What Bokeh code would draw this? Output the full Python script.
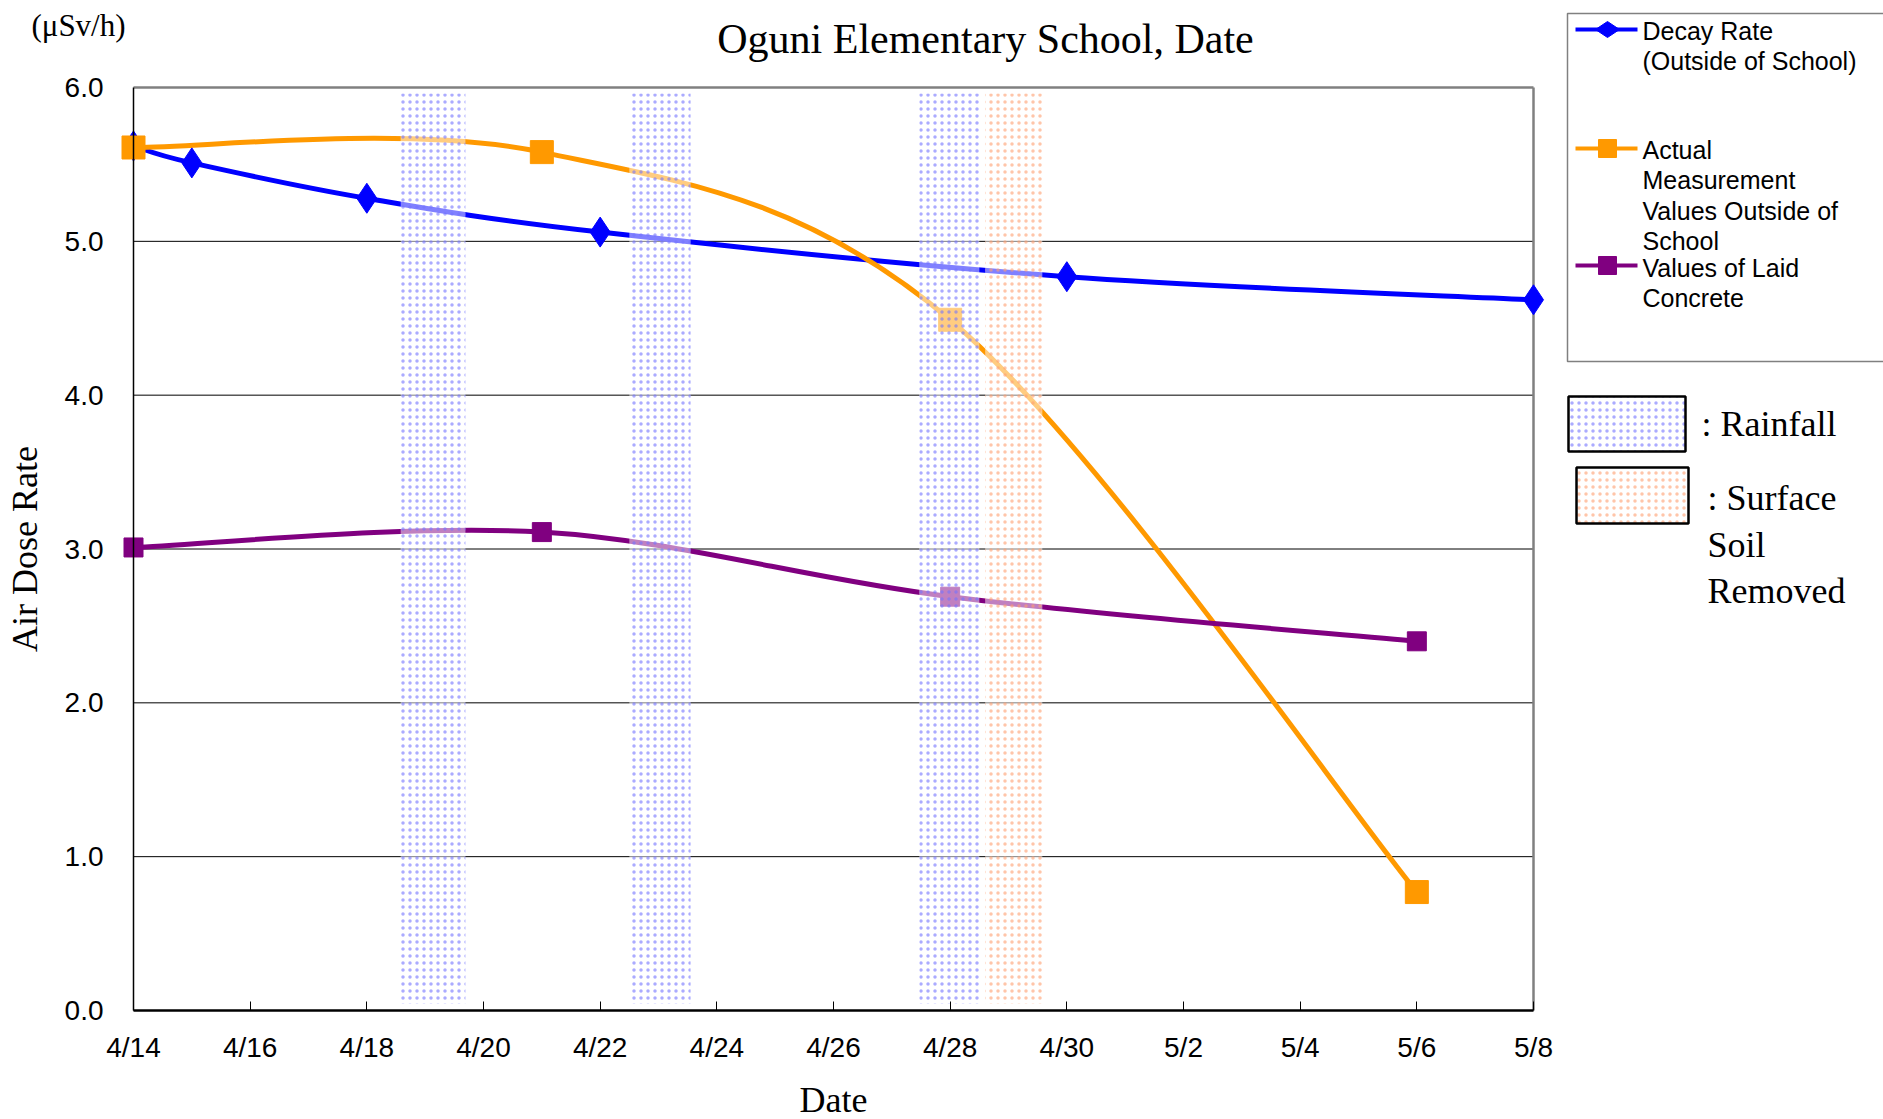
from bokeh.plotting import figure
from bokeh.models import Range1d, FixedTicker
from bokeh.core.properties import value
from bokeh.embed import file_html
from bokeh.resources import INLINE

# ---------------- data ----------------
x_tick_days = [0, 2, 4, 6, 8, 10, 12, 14, 16, 18, 20, 22, 24]
x_tick_labels = ["4/14", "4/16", "4/18", "4/20", "4/22", "4/24", "4/26",
                 "4/28", "4/30", "5/2", "5/4", "5/6", "5/8"]
y_ticks = [0, 1, 2, 3, 4, 5, 6]
y_tick_labels = ["0.0", "1.0", "2.0", "3.0", "4.0", "5.0", "6.0"]

decay_days = [0, 1, 4, 8, 16, 24]
decay_vals = [5.62, 5.51, 5.28, 5.06, 4.77, 4.62]

actual_days = [0, 7, 14, 22]
actual_vals = [5.61, 5.58, 4.49, 0.77]

concrete_days = [0, 7, 14, 22]
concrete_vals = [3.01, 3.11, 2.69, 2.40]

rain_start = [4.58, 8.50, 13.47]
rain_end = [5.69, 9.55, 14.50]
soil_start = [14.60]
soil_end = [15.58]

title = "Oguni Elementary School, Date"
unit_text = "(μSv/h)"
y_title = "Air Dose Rate"
x_title = "Date"
series_names = [["Decay Rate", "(Outside of School)"],
                ["Actual", "Measurement", "Values Outside of", "School"],
                ["Values of Laid", "Concrete"]]
band_names = [[": Rainfall"], [": Surface", "Soil", "Removed"]]

BLUE = "#0000FF"
ORANGE = "#FF9900"
PURPLE = "#800080"
SERIF = "Liberation Serif"
SANS = "Liberation Sans"

# ---------------- geometry (page pixels) ----------------
W, H = 1883, 1119
AX_L, AX_R = 133, 1533      # pixel x of 4/14 and 5/8
AX_B, AX_T = 1010, 87       # pixel y of 0.0 and 6.0
PXD = (AX_R - AX_L) / (x_tick_days[-1] - x_tick_days[0])
PXV = (AX_B - AX_T) / (y_ticks[-1] - y_ticks[0])


def dx(px):
    return (px - AX_L) / PXD


def dy(py):
    return (AX_B - py) / PXV


def smooth(xs, ys, k=1.0 / 6.0):
    n = len(xs)
    out = {c: [] for c in ["x0", "y0", "x1", "y1", "cx0", "cy0", "cx1", "cy1"]}
    for i in range(n - 1):
        ip, inn = max(i - 1, 0), min(i + 2, n - 1)
        out["x0"].append(xs[i]); out["y0"].append(ys[i])
        out["x1"].append(xs[i + 1]); out["y1"].append(ys[i + 1])
        out["cx0"].append(xs[i] + (xs[i + 1] - xs[ip]) * k)
        out["cy0"].append(ys[i] + (ys[i + 1] - ys[ip]) * k)
        out["cx1"].append(xs[i + 1] - (xs[inn] - xs[i]) * k)
        out["cy1"].append(ys[i + 1] - (ys[inn] - ys[i]) * k)
    return out


p = figure(output_backend="svg", toolbar_location=None,
           x_range=Range1d(dx(0), dx(W)), y_range=Range1d(dy(H), dy(0)),
           frame_width=W, frame_height=H, min_border=0,
           background_fill_color="white", border_fill_color="white")
p.outline_line_color = None
p.grid.visible = False

# x axis (drawn at y = 0)
xa = p.xaxis[0]
xa.fixed_location = 0
xa.ticker = FixedTicker(ticks=x_tick_days)
xa.major_label_overrides = {d: l for d, l in zip(x_tick_days, x_tick_labels)}
xa.bounds = (x_tick_days[0], x_tick_days[-1])
xa.axis_line_width = 2.5
xa.axis_line_color = "black"
xa.major_tick_in = 9
xa.major_tick_out = 0
xa.major_tick_line_width = 1
xa.minor_tick_line_color = None
xa.major_label_standoff = 21
xa.major_label_text_font = SANS
xa.major_label_text_font_size = "28px"
xa.major_label_text_color = "black"
xa.axis_label = x_title
xa.axis_label_text_font = SERIF
xa.axis_label_text_font_size = "36px"
xa.axis_label_text_font_style = "normal"
xa.axis_label_text_color = "black"
xa.axis_label_standoff = 14

# y axis (drawn at x = 0)
ya = p.yaxis[0]
ya.fixed_location = 0
ya.ticker = FixedTicker(ticks=y_ticks)
ya.major_label_overrides = {t: l for t, l in zip(y_ticks, y_tick_labels)}
ya.bounds = (y_ticks[0], y_ticks[-1])
ya.axis_line_color = "black"
ya.axis_line_width = 1.5
ya.major_tick_line_color = None
ya.major_tick_out = 0
ya.major_tick_in = 0
ya.minor_tick_line_color = None
ya.major_label_standoff = 30
ya.major_label_text_font = SANS
ya.major_label_text_font_size = "28px"
ya.major_label_text_color = "black"
ya.axis_label = y_title
ya.axis_label_text_font = SERIF
ya.axis_label_text_font_size = "36px"
ya.axis_label_text_font_style = "normal"
ya.axis_label_text_color = "black"
ya.axis_label_standoff = 17

# gridlines and frame lines
gy = y_ticks[1:-1]
p.segment(x0=[x_tick_days[0]] * len(gy), x1=[x_tick_days[-1]] * len(gy),
          y0=gy, y1=gy, line_color="black", line_width=1)
p.segment(x0=[x_tick_days[0], x_tick_days[-1]], x1=[x_tick_days[-1], x_tick_days[-1]],
          y0=[y_ticks[-1], y_ticks[0]], y1=[y_ticks[-1], y_ticks[-1]],
          line_color="#808080", line_width=2.5)

# smooth lines
for xs, ys, col in [(decay_days, decay_vals, BLUE),
                    (actual_days, actual_vals, ORANGE),
                    (concrete_days, concrete_vals, PURPLE)]:
    b = smooth(xs, ys)
    p.bezier(x0=b["x0"], y0=b["y0"], x1=b["x1"], y1=b["y1"],
             cx0=b["cx0"], cy0=b["cy0"], cx1=b["cx1"], cy1=b["cy1"],
             line_color=col, line_width=5)

p.scatter(decay_days, decay_vals, marker="diamond", size=30,
          fill_color=BLUE, line_color=BLUE, line_width=1)
p.scatter(actual_days, actual_vals, marker="square", size=23,
          fill_color=ORANGE, line_color=ORANGE)
p.scatter(concrete_days, concrete_vals, marker="square", size=19,
          fill_color=PURPLE, line_color=PURPLE)

# bands (drawn over the lines)
RAIN_HATCH = "#7373ff"
SOIL_HATCH = "#ff9e70"
HATCH = dict(hatch_pattern="dot", hatch_alpha=0.6, hatch_scale=7, hatch_weight=1.7)
p.quad(left=rain_start, right=rain_end, bottom=dy(1003), top=dy(93),
       fill_color="white", fill_alpha=0.5, line_color=None,
       hatch_color=RAIN_HATCH, **HATCH)
p.quad(left=soil_start, right=soil_end, bottom=dy(1003), top=dy(93),
       fill_color="white", fill_alpha=0.5, line_color=None,
       hatch_color=SOIL_HATCH, **HATCH)

# title and unit
p.text(x=[dx(985)], y=[dy(38)], text=[title], text_font=value(SERIF),
       text_font_size=value("42px"), text_align="center",
       text_baseline="alphabetic", text_color="black")
p.text(x=[dx(78)], y=[dy(25)], text=[unit_text], text_font=value(SERIF),
       text_font_size=value("31px"), text_align="center",
       text_baseline="middle", text_color="black")

# ---------------- legend ----------------
p.quad(left=[dx(1567)], right=[dx(1920)], top=[dy(13)], bottom=[dy(361)],
       fill_color=None, line_color="#808080", line_width=1.5)

sample_y = [29, 148, 265]
text_y0 = [30, 149, 267]
cols = [BLUE, ORANGE, PURPLE]
for sy, ty, col, lines in zip(sample_y, text_y0, cols, series_names):
    p.line([dx(1575), dx(1637)], [dy(sy), dy(sy)], line_color=col, line_width=4)
    if col == BLUE:
        p.scatter([dx(1607)], [dy(sy)], marker="diamond", size=24, angle=1.5708,
                  fill_color=col, line_color=col)
    else:
        p.scatter([dx(1607)], [dy(sy)], marker="square", size=18,
                  fill_color=col, line_color=col)
    p.text(x=[dx(1642)] * len(lines), y=[dy(ty + 30.5 * i) for i in range(len(lines))],
           text=lines, text_font=value(SANS), text_font_size=value("25px"),
           text_baseline="middle", text_align="left", text_color="black")

p.quad(left=[dx(1568)], right=[dx(1685)], top=[dy(396)], bottom=[dy(451)],
       fill_color="white", line_color="black", line_width=2.5,
       hatch_color=RAIN_HATCH, **HATCH)
p.quad(left=[dx(1576)], right=[dx(1688)], top=[dy(467)], bottom=[dy(523)],
       fill_color="white", line_color="black", line_width=2.5,
       hatch_color=SOIL_HATCH, **HATCH)
p.text(x=[dx(1701)], y=[dy(423)], text=band_names[0], text_font=value(SERIF),
       text_font_size=value("36px"), text_baseline="alphabetic", text_color="black")
p.text(x=[dx(1707)] * 3, y=[dy(497), dy(544), dy(590)], text=band_names[1],
       text_font=value(SERIF), text_font_size=value("36px"),
       text_baseline="alphabetic", text_color="black")

open("out.html", "w").write(file_html(p, INLINE))
